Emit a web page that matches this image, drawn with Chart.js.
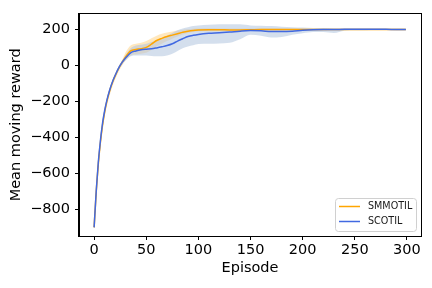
<!DOCTYPE html>
<html>
<head>
<meta charset="utf-8">
<script src="https://cdn.jsdelivr.net/npm/chart.js@4"></script>
<style>
  html, body { margin: 0; padding: 0; background: #fff; }
  #wrap { width: 432px; height: 288px; }
</style>
</head>
<body>
<div id="wrap"><canvas id="chart" width="432" height="288"></canvas></div>
<script>
// ── data ────────────────────────────────────────────────
const episodes = [0, 2, 4, 6, 8, 10, 12, 15, 18, 21, 24, 27, 30, 35, 40, 45, 50, 55, 60, 65, 70, 75, 80, 85, 90, 95,
  100, 110, 120, 130, 140, 150, 160, 170, 180, 190, 200, 210, 220, 230, 240, 250, 260, 270, 280, 290, 299];

const scotilMean = [-900, -700, -540, -420, -325, -255, -200, -135, -85, -45, -10, 18, 40, 70, 80, 87, 90, 92, 97, 103, 110, 120, 135, 148, 160, 167,
  172, 178, 181, 185, 190, 193, 192, 188, 188, 190, 195, 198, 199, 199, 200, 200, 200, 200, 200, 199, 199];
const scotilLow = [-905, -710, -550, -430, -335, -265, -210, -145, -95, -55, -20, 5, 25, 50, 55, 55, 55, 52, 50, 50, 55, 65, 80, 95, 105, 112,
  118, 120, 122, 125, 145, 170, 165, 155, 158, 170, 178, 185, 185, 180, 192, 195, 195, 196, 196, 195, 195];
const scotilHigh = [-895, -690, -530, -410, -315, -245, -190, -125, -75, -35, 0, 30, 55, 95, 110, 115, 120, 130, 140, 150, 165, 180, 195, 205, 212, 218,
  222, 225, 228, 228, 228, 222, 220, 218, 215, 212, 210, 208, 207, 205, 204, 204, 204, 203, 203, 203, 203];

const smmotilMean = [-900, -705, -550, -430, -335, -262, -205, -140, -88, -48, -12, 18, 45, 80, 88, 93, 100, 118, 138, 150, 160, 168, 176, 184, 190, 194,
  196, 198, 198, 197, 197, 198, 199, 199, 199, 199, 199, 199, 199, 199, 199, 199, 199, 199, 199, 199, 199];
const smmotilLow = [-905, -730, -580, -460, -365, -290, -232, -165, -110, -68, -30, 0, 25, 55, 60, 65, 70, 85, 105, 120, 135, 148, 160, 172, 180, 185,
  188, 190, 190, 190, 190, 193, 193, 193, 194, 195, 195, 195, 195, 196, 196, 196, 196, 196, 196, 196, 196];
const smmotilHigh = [-895, -695, -540, -420, -325, -252, -195, -130, -78, -38, -2, 30, 70, 110, 120, 125, 135, 150, 165, 175, 182, 188, 193, 198, 202, 204,
  205, 206, 205, 205, 205, 205, 205, 205, 205, 205, 204, 204, 204, 203, 203, 203, 203, 203, 203, 203, 203];

const xTicks = [0, 50, 100, 150, 200, 250, 300];
const yTicks = [-800, -600, -400, -200, 0, 200];

const ORANGE = '#ffa500', BLUE = '#4169e1';
const FONT = "'DejaVu Sans', sans-serif";

const pts = (ys) => ys.map((y, i) => ({ x: episodes[i], y }));
const line = (label, ys, color) => ({ label, data: pts(ys), borderColor: color, borderWidth: 1.5,
  pointRadius: 0, cubicInterpolationMode: 'monotone', fill: false });
const edge = (ys, fill, bg) => ({ data: pts(ys), borderWidth: 0, borderColor: 'rgba(0,0,0,0)', pointRadius: 0,
  cubicInterpolationMode: 'monotone', fill, backgroundColor: bg, band: true });

// ── frame + legend inside the axes ─────────────────────
const frame = {
  id: 'frame',
  afterDraw(chart) {
    const { ctx, chartArea: a } = chart;
    ctx.save();
    ctx.strokeStyle = '#000';
    ctx.lineWidth = 1;
    ctx.strokeRect(Math.round(a.left) - 0.5, Math.round(a.top) - 0.5,
      Math.round(a.right - a.left) + 1, Math.round(a.bottom - a.top) + 1);

    const items = chart.data.datasets.filter((d) => !d.band);
    const x0 = 335, y0 = 198, w = 81, h = 33, r = 3;
    ctx.beginPath();
    ctx.roundRect(x0 + 0.5, y0 + 0.5, w, h, r);
    ctx.fillStyle = 'rgba(255,255,255,0.8)';
    ctx.fill();
    ctx.strokeStyle = '#d0d0d0';
    ctx.stroke();
    ctx.font = '9.6px ' + FONT;
    ctx.textBaseline = 'middle';
    ctx.textAlign = 'left';
    [...items].reverse().forEach((d, i) => {
      const y = y0 + 8.5 + i * 15;
      ctx.strokeStyle = d.borderColor;
      ctx.lineWidth = 1.5;
      ctx.beginPath();
      ctx.moveTo(339, y);
      ctx.lineTo(360, y);
      ctx.stroke();
      ctx.fillStyle = '#1a1a1a';
      ctx.fillText(d.label, 368, y);
    });
    ctx.restore();
  },
};

new Chart(document.getElementById('chart'), {
  type: 'line',
  data: {
    datasets: [
      line('SCOTIL', scotilMean, BLUE),
      line('SMMOTIL', smmotilMean, ORANGE),
      edge(scotilHigh, '+1', 'rgba(176,196,222,0.55)'),
      edge(scotilLow, false),
      edge(smmotilHigh, '+1', 'rgba(255,165,0,0.25)'),
      edge(smmotilLow, false),
    ],
  },
  options: {
    responsive: false, animation: false,
    layout: { padding: { top: 11, right: 11, left: 0, bottom: 0 } },
    plugins: { legend: { display: false }, tooltip: { enabled: false } },
    scales: {
      x: {
        type: 'linear', min: -14.5, max: 313.5,
        afterBuildTicks: (s) => { s.ticks = xTicks.map((v) => ({ value: v })); },
        afterFit: (s) => { s.height = 52; },
        grid: { drawOnChartArea: false, color: '#000', tickLength: 4, tickWidth: 1 },
        border: { color: '#000', width: 1 },
        ticks: { color: '#000', font: { family: FONT, size: 14.5 }, padding: 2, maxRotation: 0 },
        title: { display: true, text: 'Episode', color: '#000', font: { family: FONT, size: 14.5 },
          padding: { bottom: 11 } },
      },
      y: {
        min: -948, max: 287,
        afterBuildTicks: (s) => { s.ticks = yTicks.map((v) => ({ value: v })); },
        afterFit: (s) => { s.width = 79; },
        grid: { drawOnChartArea: false, color: '#000', tickLength: 4, tickWidth: 1 },
        border: { color: '#000', width: 1 },
        ticks: { color: '#000', font: { family: FONT, size: 14.5 }, padding: 5,
          callback: (v) => String(v).replace('-', '\u2212') },
        title: { display: true, text: 'Mean moving reward', color: '#000', font: { family: FONT, size: 14.5 },
          padding: { top: 8 } },
      },
    },
  },
  plugins: [frame],
});
</script>
</body>
</html>
